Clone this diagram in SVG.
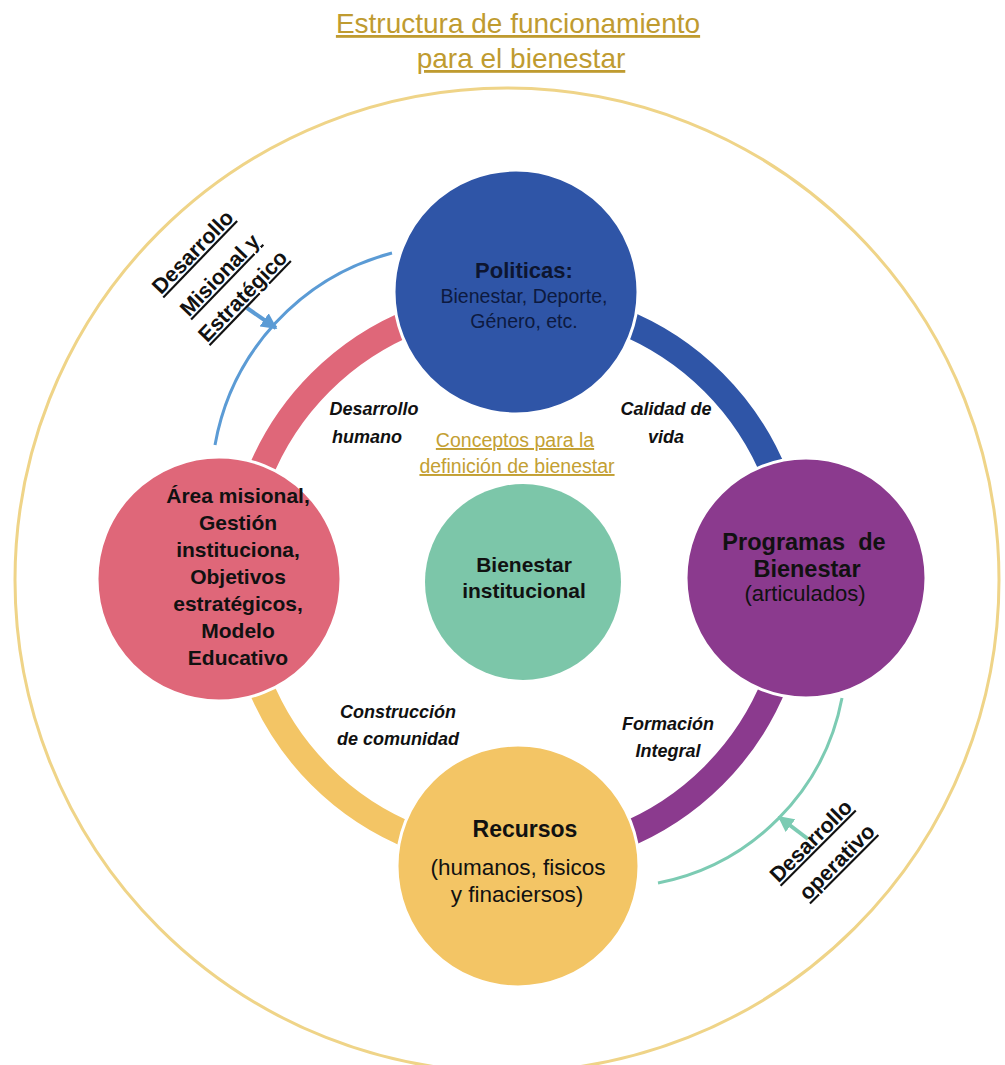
<svg xmlns="http://www.w3.org/2000/svg" width="1005" height="1065" viewBox="0 0 1005 1065">
<style>
text{font-family:"Liberation Sans",Arial,sans-serif;text-anchor:middle}
.b{font-weight:bold}
.t{fill:#111}
.gold{fill:#BF9B30;text-decoration:underline}
.lab{font-weight:bold;font-style:italic;font-size:18px;fill:#111}
.rot{font-weight:bold;font-size:21.5px;fill:#111;text-decoration:underline}
.ring{fill:none;stroke-width:26}
.node{stroke:#fff;stroke-width:3}
</style>
<defs>
<marker id="ab" viewBox="0 0 10 10" refX="9" refY="5" markerWidth="4" markerHeight="4" orient="auto" markerUnits="strokeWidth"><path d="M0,0 L10,5 L0,10 z" fill="#5B9BD5"/></marker>
<marker id="at" viewBox="0 0 10 10" refX="9" refY="5" markerWidth="4" markerHeight="4" orient="auto" markerUnits="strokeWidth"><path d="M0,0 L10,5 L0,10 z" fill="#7CCBB3"/></marker>
</defs>
<rect width="1005" height="1065" fill="#fff"/>
<g id="title">
<text class="gold" x="518" y="33" font-size="28">Estructura de funcionamiento</text>
<text class="gold" x="521" y="68" font-size="28">para el bienestar</text>
</g>
<circle id="outer" cx="507" cy="580" r="492" fill="none" stroke="#EFD488" stroke-width="3"/>
<g id="connectors">
<path class="ring" stroke="#DF6779" d="M239,579 A278,278 0 0,1 517,301"/>
<path class="ring" stroke="#2F55A7" d="M517,301 A278,278 0 0,1 795,579"/>
<path class="ring" stroke="#8B3A8E" d="M795,579 A278,278 0 0,1 517,857"/>
<path class="ring" stroke="#F3C565" d="M517,857 A278,278 0 0,1 239,579"/>
<path d="M392,253 A242,242 0 0,0 215,445" fill="none" stroke="#5B9BD5" stroke-width="3"/>
<path d="M842,698 A233,233 0 0,1 658,883" fill="none" stroke="#7CCBB3" stroke-width="3"/>
<line x1="247" y1="308" x2="276" y2="328" stroke="#5B9BD5" stroke-width="4" marker-end="url(#ab)"/>
<line x1="808" y1="839" x2="779" y2="817" stroke="#7CCBB3" stroke-width="4" marker-end="url(#at)"/>
</g>
<g id="node-politicas">
<circle class="node" cx="516" cy="292" r="122" fill="#2F55A7"/>
<text class="b" x="524" y="278" font-size="22" fill="#0d1530">Politicas:</text>
<text x="524" y="303" font-size="19.5" fill="#0d1a40">Bienestar, Deporte,</text>
<text x="524" y="328" font-size="19.5" fill="#0d1a40">Género, etc.</text>
</g>
<g id="node-area">
<circle class="node" cx="219" cy="579" r="122" fill="#DF6779"/>
<text class="b t" x="238" y="503" font-size="21">Área misional,</text>
<text class="b t" x="238" y="530" font-size="21">Gestión</text>
<text class="b t" x="238" y="557" font-size="21">instituciona,</text>
<text class="b t" x="238" y="584" font-size="21">Objetivos</text>
<text class="b t" x="238" y="611" font-size="21">estratégicos,</text>
<text class="b t" x="238" y="638" font-size="21">Modelo</text>
<text class="b t" x="238" y="665" font-size="21">Educativo</text>
</g>
<g id="node-programas">
<circle class="node" cx="806" cy="578" r="120" fill="#8B3A8E"/>
<text class="b t" x="804" y="550" font-size="23.5" style="white-space:pre">Programas  de</text>
<text class="b t" x="807" y="577" font-size="23.5">Bienestar</text>
<text class="t" x="805" y="601" font-size="22">(articulados)</text>
</g>
<g id="node-recursos">
<circle class="node" cx="518" cy="866" r="121" fill="#F3C565"/>
<text class="b t" x="525" y="837" font-size="23">Recursos</text>
<text class="t" x="518" y="875" font-size="22.5">(humanos, fisicos</text>
<text class="t" x="517" y="902" font-size="22.5">y finaciersos)</text>
</g>
<g id="node-bienestar">
<circle cx="523" cy="582" r="98" fill="#7CC6A9"/>
<text class="b t" x="524" y="572" font-size="21">Bienestar</text>
<text class="b t" x="524" y="598" font-size="21">institucional</text>
</g>
<g id="labels">
<text class="gold" x="515" y="447" font-size="19.5" style="fill:#C3A033">Conceptos para la</text>
<text class="gold" x="517" y="473" font-size="19.5" style="fill:#C3A033">definición de bienestar</text>
<text class="lab" x="374" y="415">Desarrollo</text>
<text class="lab" x="367" y="443">humano</text>
<text class="lab" x="666" y="415">Calidad de</text>
<text class="lab" x="666" y="443">vida</text>
<text class="lab" x="398" y="718">Construcción</text>
<text class="lab" x="398" y="745">de comunidad</text>
<text class="lab" x="668" y="730">Formación</text>
<text class="lab" x="668" y="757">Integral</text>
<text class="rot" transform="rotate(-46 198 257)" x="198" y="257">Desarrollo</text>
<text class="rot" transform="rotate(-46 225 280)" x="225" y="280">Misional y</text>
<text class="rot" transform="rotate(-46 248 301)" x="248" y="301">Estratégico</text>
<text class="rot" transform="rotate(-45 816 846)" x="816" y="846">Desarrollo</text>
<text class="rot" transform="rotate(-45 842 867)" x="842" y="867">operativo</text>
</g>
</svg>
